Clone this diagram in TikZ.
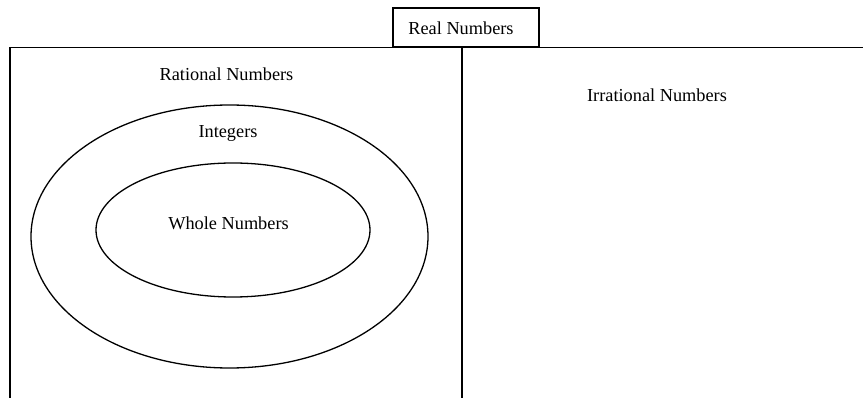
\documentclass[tikz,border=0pt]{standalone}
\usepackage{fontspec}
\setmainfont{Liberation Serif}
\usetikzlibrary{shapes.geometric}
\begin{document}
\begin{tikzpicture}[x=1pt,y=-1pt,
  lbl/.style={anchor=base,inner sep=0pt,font=\fontsize{18.3}{22}\selectfont},
  frame/.style={line width=1.6pt,black},
  oval/.style={draw,ellipse,line width=1.3pt,inner sep=0pt}]
\useasboundingbox (0,0) rectangle (863,398);
\node[draw,line width=1.6pt,minimum width=146pt,minimum height=39pt,inner sep=0pt] (realbox) at (466,27.5) {};
\node[lbl] (real) at (461,35) {Real Numbers};
\coordinate (tl) at (10,47.5);
\coordinate (tr) at (863,47.5);
\coordinate (bl) at (10,398);
\coordinate (mt) at (462,47.5);
\coordinate (mb) at (462,398);
\draw[frame] (bl) -- (tl) -- (tr);
\draw[frame] (mt) -- (mb);
\node[oval,minimum width=397pt,minimum height=263pt] (outer) at (229.5,236.5) {};
\node[oval,minimum width=274pt,minimum height=134pt] (inner) at (233,230) {};
\node[lbl] (rational) at (226.5,81) {Rational Numbers};
\node[lbl] (irrational) at (657,102) {Irrational Numbers};
\node[lbl] (integers) at (228,138) {Integers};
\node[lbl] (whole) at (228.5,230) {Whole Numbers};
\end{tikzpicture}
\end{document}
